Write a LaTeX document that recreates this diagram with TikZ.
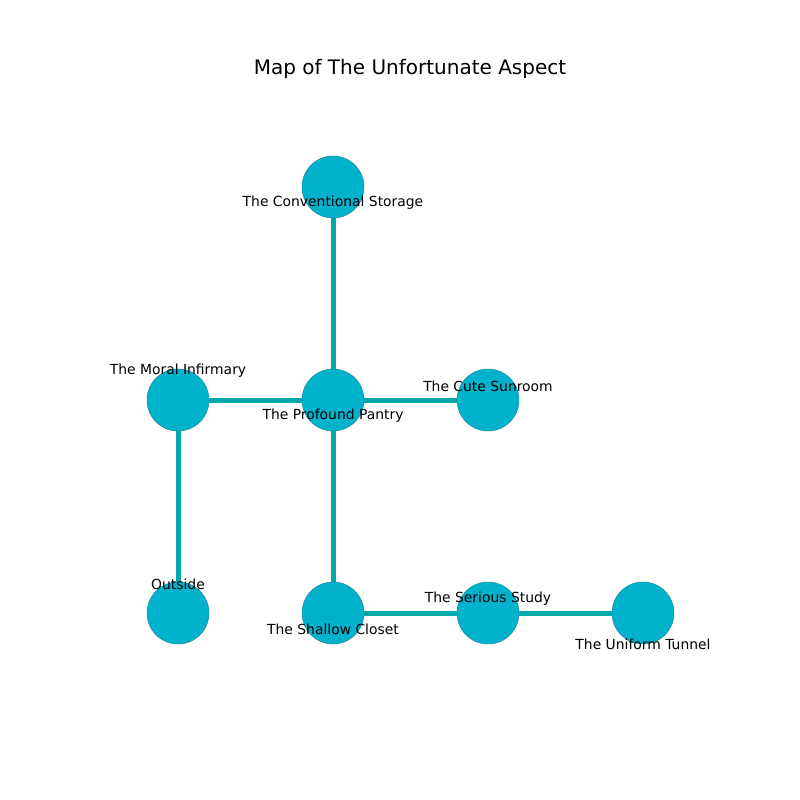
\documentclass[tikz,border=0pt]{standalone}
\usepackage{fontspec}
\setmainfont{DejaVu Sans}
\usepackage{xcolor}
\definecolor{roomfill}{HTML}{00B2CC}
\definecolor{roomline}{HTML}{1C8E9E}
\definecolor{passage}{HTML}{00A9AC}
\tikzset{
    room/.style={circle, fill=roomfill, draw=roomline, line width=0.4pt, minimum size=44.6pt, inner sep=0pt},
    roomname/.style={font=\fontsize{10}{12}\selectfont, inner sep=0pt, anchor=center},
    passageway/.style={draw=passage, line width=3.6pt}
}
\begin{document}
\begin{tikzpicture}[x=0.72pt, y=-0.72pt]
    \useasboundingbox[fill=white] (0,0) rectangle (800,800);
    \node[font=\fontsize{14.4}{17}\selectfont] (title) at (410,69) {Map of The Unfortunate Aspect};
    % rooms
    \node[room] (storage) at (333,187) {};
    \node[room] (infirmary) at (178,400) {};
    \node[room] (pantry) at (333,400) {};
    \node[room] (sunroom) at (488,400) {};
    \node[room] (outside) at (178,613) {};
    \node[room] (closet) at (333,613) {};
    \node[room] (study) at (488,613) {};
    \node[room] (tunnel) at (643,613) {};
    % passages
    \draw[passageway] (pantry) -- (storage);
    \draw[passageway] (pantry) -- (infirmary);
    \draw[passageway] (pantry) -- (sunroom);
    \draw[passageway] (pantry) -- (closet);
    \draw[passageway] (infirmary) -- (outside);
    \draw[passageway] (closet) -- (study);
    \draw[passageway] (study) -- (tunnel);
    % names
    \node[roomname] (storage-name) at (333,203) {The Conventional Storage};
    \node[roomname] (infirmary-name) at (178,371) {The Moral Infirmary};
    \node[roomname] (pantry-name) at (333,416) {The Profound Pantry};
    \node[roomname] (sunroom-name) at (488,386) {The Cute Sunroom};
    \node[roomname] (outside-name) at (178,584) {Outside};
    \node[roomname] (closet-name) at (333,629) {The Shallow Closet};
    \node[roomname] (study-name) at (488,599) {The Serious Study};
    \node[roomname] (tunnel-name) at (643,644) {The Uniform Tunnel};
\end{tikzpicture}
\end{document}
